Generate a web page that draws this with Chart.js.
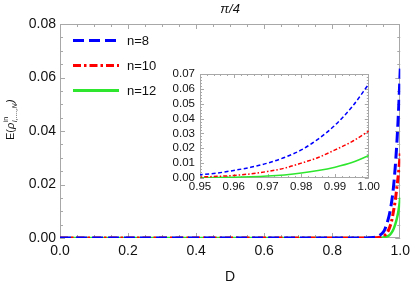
<!DOCTYPE html>
<html><head><meta charset="utf-8">
<script src="https://cdn.jsdelivr.net/npm/chart.js@4/dist/chart.umd.min.js"></script>
<style>
html,body{margin:0;padding:0;background:#fff;}
#wrap{position:relative;width:415px;height:284px;overflow:hidden;background:#fff;}
#main{position:absolute;left:0;top:0;}
#inset{position:absolute;left:160px;top:62px;}
</style></head><body>
<div id="wrap"><canvas id="main" width="415" height="284"></canvas><canvas id="inset" width="222" height="135"></canvas></div>
<script>
// ---- data ----
const dValues = [0.00, 0.10, 0.20, 0.30, 0.40, 0.50, 0.60, 0.70, 0.80, 0.85, 0.90, 0.92, 0.93, 0.94, 0.95, 0.955, 0.96, 0.965, 0.97, 0.975, 0.98, 0.985, 0.99, 0.995, 1.00];
const n8  = [0, 0, 0, 0, 0, 0, 0, 0, 0, 0.000002, 0.00004, 0.00018, 0.0004, 0.0010, 0.0022, 0.0033, 0.0051, 0.0072, 0.0100, 0.0138, 0.0189, 0.0262, 0.0356, 0.0478, 0.0633];
const n10 = [0, 0, 0, 0, 0, 0, 0, 0, 0, 0, 0.00001, 0.00005, 0.0001, 0.00028, 0.0007, 0.0011, 0.0017, 0.0028, 0.0044, 0.0066, 0.0100, 0.0138, 0.0189, 0.0245, 0.0316];
const n12 = [0, 0, 0, 0, 0, 0, 0, 0, 0, 0, 0, 0.00001, 0.00003, 0.00008, 0.0002, 0.0003, 0.0005, 0.0008, 0.0013, 0.0021, 0.0033, 0.0050, 0.0073, 0.0104, 0.0151];
const seriesLabels = ['n=8', 'n=10', 'n=12'];
const mainXTicks = [0.0, 0.2, 0.4, 0.6, 0.8, 1.0];
const mainYTicks = [0.00, 0.02, 0.04, 0.06, 0.08];
const insetXTicks = [0.95, 0.96, 0.97, 0.98, 0.99, 1.00];
const insetYTicks = [0.00, 0.01, 0.02, 0.03, 0.04, 0.05, 0.06, 0.07];
const chartTitle = 'π/4';
const xTitle = 'D';

// ---- styles ----
const F = '"Liberation Sans", Arial, Helvetica, sans-serif';
const BLUE = '#0000ff', RED = '#ff0000', GREEN = '#2ee62e';
const FRAME = '#a8a8a8';
const TXT = '#111';
const seriesValues = [n8, n10, n12];
const colors = [BLUE, RED, GREEN];
const dashMain = [[11, 5], [8, 3, 2.5, 3], []];
const dashInset = [[4, 2.5], [4, 2, 1.5, 2], []];

function pts(arr) { return dValues.map((d, i) => ({ x: d, y: arr[i] })); }
function makeDatasets(widths, dashes) {
  return seriesValues.map((arr, i) => ({
    label: seriesLabels[i], data: pts(arr), borderColor: colors[i], backgroundColor: colors[i],
    borderWidth: widths[i], borderDash: dashes[i], pointRadius: 0, fill: false,
    cubicInterpolationMode: 'monotone', borderCapStyle: 'butt'
  }));
}

function framePlugin(id, xMinorDiv, yMinorDiv, majLen, minLen) {
  return {
    id: id,
    beforeDatasetsDraw(chart) {
      const { ctx, chartArea: a, scales: { x, y } } = chart;
      ctx.save();
      ctx.strokeStyle = FRAME; ctx.lineWidth = 1;
      ctx.strokeRect(Math.round(a.left) + 0.5, Math.round(a.top) + 0.5, Math.round(a.right - a.left) - 1, Math.round(a.bottom - a.top) - 1);
      ctx.beginPath();
      const xt = x.ticks.map(t => t.value);
      for (let i = 0; i < xt.length - 1; i++) {
        for (let k = 0; k < xMinorDiv; k++) {
          const v = xt[i] + (xt[i + 1] - xt[i]) * k / xMinorDiv;
          const p = Math.round(x.getPixelForValue(v)) + 0.5;
          const L = k === 0 ? majLen : minLen;
          ctx.moveTo(p, a.bottom); ctx.lineTo(p, a.bottom - L);
          ctx.moveTo(p, a.top); ctx.lineTo(p, a.top + L);
        }
      }
      const yt = y.ticks.map(t => t.value);
      for (let i = 0; i < yt.length - 1; i++) {
        for (let k = 0; k < yMinorDiv; k++) {
          const v = yt[i] + (yt[i + 1] - yt[i]) * k / yMinorDiv;
          const p = Math.round(y.getPixelForValue(v)) + 0.5;
          const L = k === 0 ? majLen : minLen;
          ctx.moveTo(a.left, p); ctx.lineTo(a.left + L, p);
          ctx.moveTo(a.right, p); ctx.lineTo(a.right - L, p);
        }
      }
      ctx.stroke();
      ctx.restore();
    }
  };
}

const mainDecor = {
  id: 'mainDecor',
  afterDraw(chart) {
    const { ctx, chartArea: a } = chart;
    ctx.save();
    // title
    ctx.fillStyle = TXT;
    ctx.font = 'italic 13px ' + F;
    ctx.textAlign = 'center'; ctx.textBaseline = 'middle';
    ctx.fillText(chartTitle, (a.left + a.right) / 2, 9);
    // legend
    chart.data.datasets.forEach((ds, i) => {
      const yy = a.top + 16.5 + i * 25;
      ctx.save();
      ctx.strokeStyle = ds.borderColor; ctx.lineWidth = 3; ctx.setLineDash(ds.borderDash || []);
      ctx.beginPath(); ctx.moveTo(a.left + 13, yy); ctx.lineTo(a.left + 59, yy); ctx.stroke();
      ctx.restore();
      ctx.fillStyle = TXT; ctx.font = '13px ' + F; ctx.textAlign = 'left'; ctx.textBaseline = 'middle';
      ctx.fillText(ds.label, a.left + 67, yy + 0.5);
    });
    // y title (rotated, with super/subscripts)
    ctx.translate(13.5, 140);
    ctx.rotate(-Math.PI / 2);
    ctx.textAlign = 'left'; ctx.textBaseline = 'alphabetic'; ctx.fillStyle = TXT;
    let x = 0;
    ctx.font = '11px ' + F; ctx.fillText('E(', x, 0); x += ctx.measureText('E(').width;
    ctx.font = 'italic 11px ' + F; ctx.fillText('ρ', x, 0); x += ctx.measureText('ρ').width + 0.5;
    ctx.font = '7px ' + F; ctx.fillText('in', x, -5.5); const w1 = ctx.measureText('in').width;
    ctx.font = 'italic 7px ' + F; ctx.fillText('I,....,N', x, 3); const w2 = ctx.measureText('I,....,N').width;
    x += Math.max(w1, w2) + 0.5;
    ctx.font = 'italic 11px ' + F; ctx.fillText(')', x, 0);
    ctx.restore();
  }
};

new Chart(document.getElementById('main'), {
  type: 'line',
  data: { datasets: makeDatasets([3, 3, 2.5], dashMain) },
  options: {
    responsive: false, devicePixelRatio: 1, animation: false,
    layout: { padding: { top: 24, right: 10, left: 0, bottom: 0 } },
    plugins: { legend: { display: false }, tooltip: { enabled: false }, title: { display: false } },
    scales: {
      x: {
        type: 'linear', min: 0, max: 1,
        afterBuildTicks: s => { s.ticks = mainXTicks.map(v => ({ value: v })); },
        ticks: { callback: v => v.toFixed(1), font: { size: 14, family: F }, color: TXT, padding: 5, maxRotation: 0, autoSkip: false },
        grid: { display: false, drawTicks: false }, border: { display: false },
        title: { display: true, text: xTitle, font: { size: 14, family: F, lineHeight: 1 }, color: TXT, padding: 0 },
        afterFit: s => { s.height = 46; }
      },
      y: {
        type: 'linear', min: 0, max: 0.08,
        afterBuildTicks: s => { s.ticks = mainYTicks.map(v => ({ value: v })); },
        ticks: { callback: v => v.toFixed(2), font: { size: 14, family: F }, color: TXT, padding: 4, autoSkip: false },
        grid: { display: false, drawTicks: false }, border: { display: false },
        afterFit: s => { s.width = 60; }
      }
    }
  },
  plugins: [framePlugin('mainFrame', 4, 4, 5, 3), mainDecor]
});

new Chart(document.getElementById('inset'), {
  type: 'line',
  data: { datasets: makeDatasets([1.5, 1.5, 1.5], dashInset) },
  options: {
    responsive: false, devicePixelRatio: 1, animation: false,
    layout: { padding: { top: 12, right: 12, left: 0, bottom: 0 } },
    plugins: { legend: { display: false }, tooltip: { enabled: false }, title: { display: false } },
    scales: {
      x: {
        type: 'linear', min: 0.95, max: 1.0,
        afterBuildTicks: s => { s.ticks = insetXTicks.map(v => ({ value: v })); },
        ticks: { callback: v => v.toFixed(2), font: { size: 11.5, family: F }, color: TXT, padding: 2, maxRotation: 0, autoSkip: false },
        grid: { display: false, drawTicks: false }, border: { display: false },
        afterFit: s => { s.height = 19; }
      },
      y: {
        type: 'linear', min: 0, max: 0.07,
        afterBuildTicks: s => { s.ticks = insetYTicks.map(v => ({ value: v })); },
        ticks: { callback: v => v.toFixed(2), font: { size: 11.5, family: F }, color: TXT, padding: 5, autoSkip: false },
        grid: { display: false, drawTicks: false }, border: { display: false },
        afterFit: s => { s.width = 40; }
      }
    }
  },
  plugins: [framePlugin('insetFrame', 5, 5, 4, 2)]
});
</script>
</body></html>
